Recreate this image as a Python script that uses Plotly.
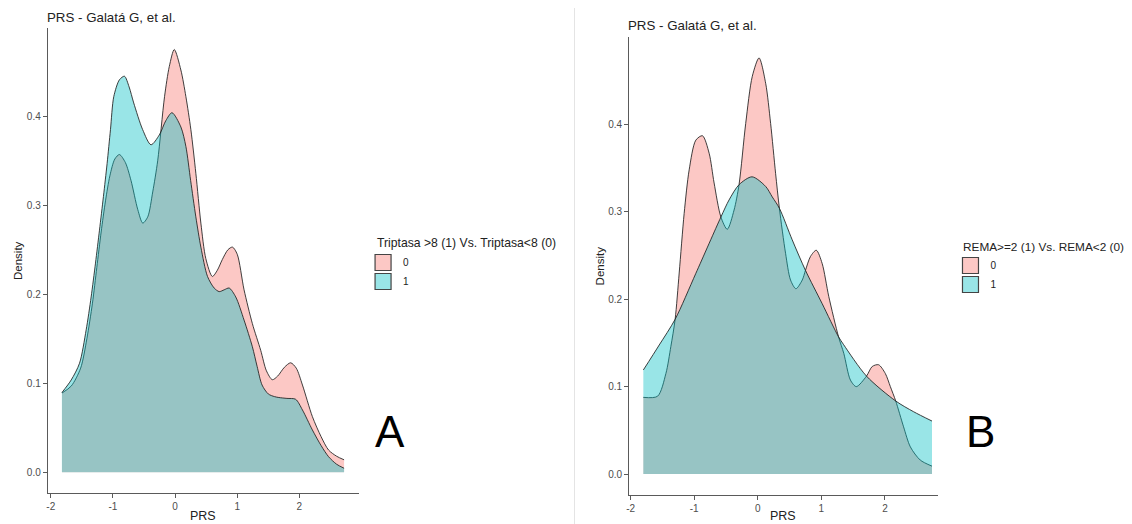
import plotly.graph_objects as go

# ---------------- data ----------------
groups = ["0", "1"]
x_ticks = [-2, -1, 0, 1, 2]
x_ticklabels = ["-2", "-1", "0", "1", "2"]
y_ticks = [0.0, 0.1, 0.2, 0.3, 0.4]
y_ticklabels = ["0.0", "0.1", "0.2", "0.3", "0.4"]

# Panel A : Triptasa
a_x0 = [-1.82, -1.67, -1.52, -1.42, -1.33, -1.26, -1.19, -1.12, -1.05, -0.97, -0.896, -0.80,
        -0.71, -0.60, -0.52, -0.44, -0.36, -0.28, -0.17, -0.093, -0.013, 0.093, 0.174, 0.254,
        0.334, 0.415, 0.495, 0.60, 0.68, 0.76, 0.85, 0.923, 1.00, 1.11, 1.244, 1.378,
        1.47, 1.565, 1.65, 1.76, 1.86, 1.95, 2.05, 2.21, 2.35, 2.47, 2.60, 2.72]
a_y0 = [0.089, 0.097, 0.117, 0.150, 0.190, 0.230, 0.270, 0.305, 0.333, 0.352, 0.357, 0.348,
        0.328, 0.295, 0.280, 0.287, 0.315, 0.350, 0.422, 0.456, 0.475, 0.452, 0.422, 0.385,
        0.336, 0.280, 0.240, 0.220, 0.227, 0.239, 0.250, 0.253, 0.245, 0.205, 0.167, 0.137,
        0.114, 0.104, 0.108, 0.118, 0.123, 0.117, 0.098, 0.0625, 0.040, 0.025, 0.018, 0.014]

a_x1 = [-1.822, -1.672, -1.538, -1.431, -1.351, -1.281, -1.217, -1.153, -1.094, -1.040, -0.987,
        -0.896, -0.815, -0.74, -0.666, -0.522, -0.388, -0.254, -0.15, -0.05, 0.093, 0.174, 0.25,
        0.334, 0.415, 0.522, 0.629, 0.71, 0.79, 0.87, 0.976, 1.11, 1.244, 1.32, 1.40, 1.50, 1.60,
        1.67, 1.80, 1.94, 2.05, 2.21, 2.35, 2.47, 2.60, 2.72]
a_y1 = [0.0895, 0.1037, 0.1225, 0.160, 0.197, 0.235, 0.272, 0.310, 0.347, 0.385, 0.422,
        0.441, 0.445, 0.433, 0.415, 0.385, 0.368, 0.379, 0.395, 0.404, 0.388, 0.366, 0.328,
        0.287, 0.253, 0.220, 0.207, 0.203, 0.205, 0.207, 0.197, 0.171, 0.141, 0.119, 0.098, 0.088, 0.085,
        0.084, 0.083, 0.082, 0.070, 0.0475, 0.030, 0.0175, 0.009, 0.0045]

# Panel B : REMA
b_x0 = [-1.80, -1.576, -1.445, -1.367, -1.30, -1.236, -1.158, -1.079, -0.974, -0.87, -0.765,
        -0.687, -0.58, -0.48, -0.373, -0.295, -0.19, -0.086, 0.02, 0.124, 0.202, 0.28, 0.34,
        0.437, 0.515, 0.60, 0.70, 0.75, 0.83, 0.92, 1.012, 1.117, 1.27, 1.353, 1.457, 1.55,
        1.71, 1.80, 1.90, 2.006, 2.085, 2.17, 2.293, 2.40, 2.555, 2.74]
b_y0 = [0.0877, 0.089, 0.115, 0.146, 0.177, 0.230, 0.298, 0.348, 0.382, 0.387, 0.367,
        0.333, 0.294, 0.280, 0.302, 0.331, 0.401, 0.455, 0.476, 0.447, 0.401, 0.344, 0.304,
        0.2525, 0.222, 0.212, 0.222, 0.233, 0.249, 0.256, 0.241, 0.203, 0.157, 0.138, 0.1075, 0.100,
        0.112, 0.123, 0.125, 0.115, 0.100, 0.0835, 0.054, 0.031, 0.016, 0.009]

b_x1 = [-1.80, -1.55, -1.30, -0.974, -0.58, -0.452, -0.295, -0.09, 0.124, 0.228, 0.34,
        0.541, 0.75, 1.012, 1.27, 1.35, 1.71, 2.17, 2.45, 2.74]
b_y1 = [0.119, 0.1476, 0.177, 0.2296, 0.294, 0.3135, 0.331, 0.340, 0.329, 0.317, 0.304,
        0.268, 0.233, 0.195, 0.157, 0.148, 0.112, 0.0835, 0.0713, 0.0606]

# ---------------- styling ----------------
PAGE_W, PAGE_H = 1132, 524
OFF = 8  # default body margin of the written html page
W, H = PAGE_W - OFF, PAGE_H - OFF
FONT = "Arial, Liberation Sans, sans-serif"
FILLS = {"0": "rgba(248,118,109,0.4)", "1": "rgba(0,191,196,0.4)"}
EDGE = "rgba(30,30,30,0.85)"
AXC = "#5a5a5a"


def px(x):
    # page pixel -> paper fraction
    return (x - OFF) / W


def py(y):
    return 1 - (y - OFF) / H


fig = go.Figure()

panels = [
    ("x", "y", a_x0, a_y0, a_x1, a_y1, "legend"),
    ("x2", "y2", b_x0, b_y0, b_x1, b_y1, "legend2"),
]
for xa, ya, x0, y0, x1, y1, leg in panels:
    for g, xs, ys in (("0", x0, y0), ("1", x1, y1)):
        fig.add_trace(go.Scatter(
            x=xs, y=ys, xaxis=xa, yaxis=ya, mode="lines",
            line=dict(color=EDGE, width=1, shape="spline", smoothing=0.8),
            fill="tozeroy", fillcolor=FILLS[g], showlegend=False, hoverinfo="skip"))
    for g in groups:
        fig.add_trace(go.Scatter(
            x=[None], y=[None], xaxis=xa, yaxis=ya, mode="markers", name=g,
            marker=dict(symbol="square", size=16, color=FILLS[g],
                        line=dict(color="#444", width=1.2)),
            legend=leg, showlegend=True))

axis_common = dict(showgrid=False, zeroline=False, showline=True, linecolor=AXC,
                   linewidth=1.3, ticks="outside", ticklen=4, tickcolor=AXC, tickwidth=1.1,
                   tickfont=dict(family=FONT, size=10, color="#4d4d4d"))

fig.update_layout(
    width=W, height=H, margin=dict(l=0, r=0, t=0, b=0),
    paper_bgcolor="white", plot_bgcolor="white",
    font=dict(family=FONT),
    xaxis=dict(domain=[px(45), px(357)], range=[-2.047, 2.961], anchor="y",
               tickvals=x_ticks, ticktext=x_ticklabels, **axis_common),
    yaxis=dict(domain=[py(493), py(28)], range=[-0.0233, 0.4992], anchor="x",
               tickvals=y_ticks, ticktext=y_ticklabels, **axis_common),
    xaxis2=dict(domain=[px(628), px(937)], range=[-2.020, 2.827], anchor="y2",
                tickvals=x_ticks, ticktext=x_ticklabels, **axis_common),
    yaxis2=dict(domain=[py(495), py(36.7)], range=[-0.024, 0.5003], anchor="x2",
                tickvals=y_ticks, ticktext=y_ticklabels, **axis_common),
    legend=dict(x=px(361), y=py(248), xanchor="left", yanchor="top",
                font=dict(family=FONT, size=10, color="#222"), bgcolor="rgba(0,0,0,0)",
                tracegroupgap=0, itemwidth=30),
    legend2=dict(x=px(950), y=py(251), xanchor="left", yanchor="top",
                 font=dict(family=FONT, size=10, color="#222"), bgcolor="rgba(0,0,0,0)",
                 tracegroupgap=0, itemwidth=30),
)

ann = []


def text(x, y, s, size, color="#222", xanchor="center", angle=0):
    ann.append(dict(x=px(x), y=py(y), xref="paper", yref="paper", text=s, showarrow=False,
                    xanchor=xanchor, yanchor="middle", textangle=angle,
                    font=dict(family=FONT, size=size, color=color)))


text(42, 17, "PRS - Galatá G, et al.", 13.3, xanchor="left")
text(625, 26, "PRS - Galatá G, et al.", 13.3, xanchor="left")
text(15, 260, "Density", 11.5, angle=-90)
text(599, 266, "Density", 11.5, angle=-90)
text(201, 516, "PRS", 12.5)
text(782, 516, "PRS", 12.5)
text(373, 243, "Triptasa >8 (1) Vs. Triptasa<8 (0)", 12.2, xanchor="left")
text(961, 247, "REMA>=2 (1) Vs. REMA<2 (0)", 11.8, xanchor="left")
text(388, 431, "A", 44, color="black")
text(980, 431, "B", 44, color="black")
fig.update_layout(annotations=ann)

fig.add_shape(type="line", xref="paper", yref="paper", x0=px(573), x1=px(573), y0=0, y1=1,
              line=dict(color="#e4e4e4", width=1))

fig.write_html("out.html")
